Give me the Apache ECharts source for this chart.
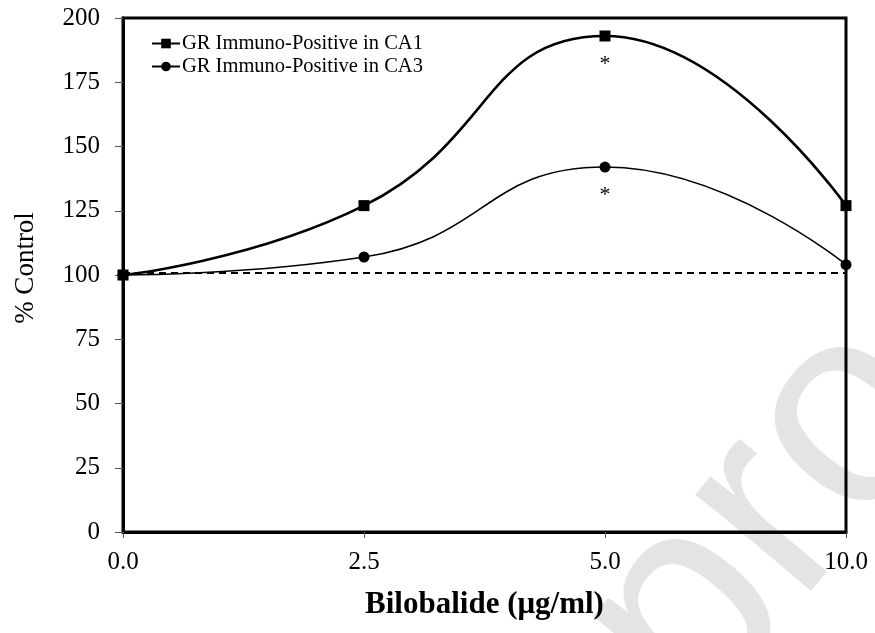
<!DOCTYPE html>
<html><head><meta charset="utf-8">
<script src="https://cdn.jsdelivr.net/npm/echarts@6/dist/echarts.min.js"></script>
<style>html,body{margin:0;padding:0;background:#fff}#c{width:875px;height:633px}</style>
</head><body><div id="c"></div>
<script>
// ---- data ----
const categories = ['0.0', '2.5', '5.0', '10.0'];
const ca1Values = [100, 127, 193, 127];
const ca3Values = [100, 107, 142, 104];
const significant = [false, false, true, false];
const controlLevel = 101;
const seriesNames = ['GR Immuno-Positive in CA1', 'GR Immuno-Positive in CA3'];
const xTitle = 'Bilobalide (\u03bcg/ml)';
const yTitle = '% Control';
const watermarkText = 'proof';

const FONT = 'Liberation Serif';

function withStars(values) {
  return values.map((v, i) => significant[i] ? {
    value: v,
    label: { show: true, position: 'bottom', distance: 12, formatter: '*',
             fontFamily: FONT, fontSize: 22, color: '#000' }
  } : v);
}

const chart = echarts.init(document.getElementById('c'), null, { renderer: 'canvas' });
chart.setOption({
  animation: false,
  backgroundColor: '#fff',
  graphic: [{
    type: 'text', z: -100, zlevel: 0,
    x: 845, y: 428, rotation: 50 * Math.PI / 180,
    style: { text: watermarkText, font: '285px "Liberation Sans"', fill: '#e4e4e4',
             textAlign: 'center', textVerticalAlign: 'middle' },
    silent: true
  }],
  grid: { left: 123, right: 29, top: 18, bottom: 101, show: true,
          borderColor: '#000', borderWidth: 3, backgroundColor: 'transparent' },
  legend: {
    left: 146, top: 28, orient: 'vertical', itemGap: 2,
    itemWidth: 28, itemHeight: 12,
    textStyle: { fontFamily: FONT, fontSize: 20.5, color: '#000', padding: [0, 0, 0, -3] },
    data: seriesNames
  },
  xAxis: {
    type: 'category', data: categories, boundaryGap: false,
    name: xTitle, nameLocation: 'middle', nameGap: 57,
    nameTextStyle: { fontFamily: FONT, fontSize: 31, fontWeight: 'bold', color: '#000' },
    axisLine: { lineStyle: { color: '#000', width: 3 } },
    axisTick: { show: true, length: 6, alignWithLabel: true, lineStyle: { color: '#555', width: 1 } },
    axisLabel: { fontFamily: FONT, fontSize: 25, color: '#000', margin: 18 },
    splitLine: { show: false }
  },
  yAxis: {
    type: 'value', min: 0, max: 200, interval: 25,
    name: yTitle, nameLocation: 'middle', nameGap: 84,
    nameTextStyle: { fontFamily: FONT, fontSize: 27, color: '#000', padding: [0, 0, 0, 14] },
    axisLine: { show: true, lineStyle: { color: '#000', width: 3 } },
    axisTick: { show: true, length: 8, lineStyle: { color: '#555', width: 1 } },
    axisLabel: { fontFamily: FONT, fontSize: 25, color: '#000', margin: 23 },
    splitLine: { show: false }
  },
  series: [
    {
      name: seriesNames[0], type: 'line', data: withStars(ca1Values), smooth: 0.5,
      symbol: 'rect', symbolSize: 11, z: 4,
      itemStyle: { color: '#000' }, lineStyle: { color: '#000', width: 2.6 },
      markLine: {
        silent: true, symbol: 'none', label: { show: false },
        lineStyle: { color: '#000', type: [7, 5], width: 2 },
        data: [{ yAxis: controlLevel }]
      }
    },
    {
      name: seriesNames[1], type: 'line', data: withStars(ca3Values), smooth: 0.5,
      symbol: 'circle', symbolSize: 11, z: 3,
      itemStyle: { color: '#000' }, lineStyle: { color: '#000', width: 1.6 }
    }
  ]
});
</script></body></html>
